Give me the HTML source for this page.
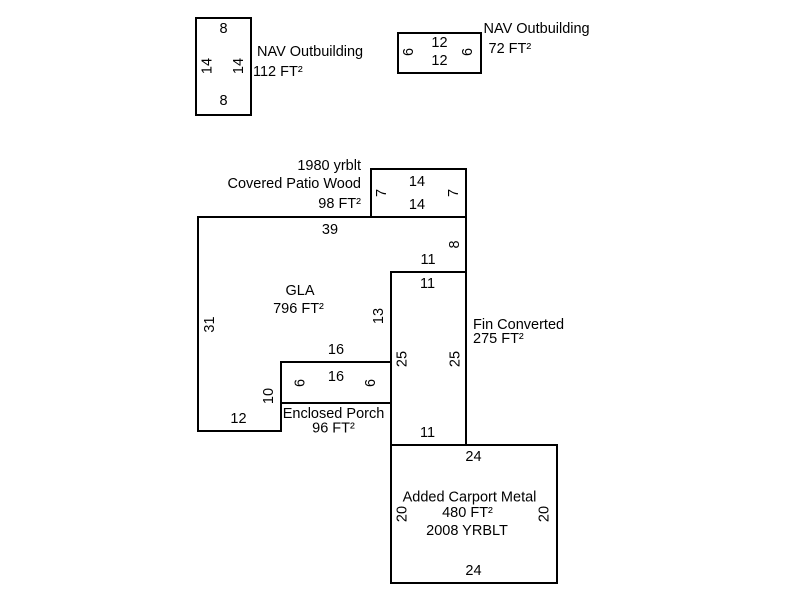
<!DOCTYPE html>
<html>
<head>
<meta charset="utf-8">
<style>
html,body{margin:0;padding:0;background:#fff;}
svg{display:block;}
text{font-family:"Liberation Sans",Arial,sans-serif;font-size:14.5px;fill:#000;}
.m{text-anchor:middle;}
.e{text-anchor:end;}
</style>
</head>
<body>
<svg width="800" height="600" viewBox="0 0 800 600" xmlns="http://www.w3.org/2000/svg">
<g fill="none" stroke="#000" stroke-width="2">
  <rect x="196" y="18" width="55" height="97"/>
  <rect x="398" y="33" width="83" height="40"/>
  <rect x="371" y="169" width="95" height="48"/>
  <polygon points="198,217 466,217 466,272 391,272 391,362 281,362 281,431 198,431"/>
  <rect x="391" y="272" width="75" height="173"/>
  <rect x="281" y="362" width="110" height="41"/>
  <rect x="391" y="445" width="166" height="138"/>
</g>

<!-- Outbuilding 1 -->
<text class="m" x="223.5" y="33">8</text>
<text class="m" x="223.5" y="105">8</text>
<text class="m" transform="translate(206.5,66) rotate(-90)" x="0" y="5">14</text>
<text class="m" transform="translate(238,66) rotate(-90)" x="0" y="5">14</text>
<text x="257" y="56">NAV Outbuilding</text>
<text x="253" y="76">112 FT²</text>

<!-- Outbuilding 2 -->
<text class="m" x="439.5" y="47">12</text>
<text class="m" x="439.5" y="65">12</text>
<text class="m" transform="translate(408,52) rotate(-90)" x="0" y="5">6</text>
<text class="m" transform="translate(467,52) rotate(-90)" x="0" y="5">6</text>
<text x="483.5" y="33">NAV Outbuilding</text>
<text x="488.5" y="53">72 FT²</text>

<!-- Patio -->
<text class="e" x="361" y="170">1980 yrblt</text>
<text class="e" x="361" y="188">Covered Patio Wood</text>
<text class="e" x="361" y="208">98 FT²</text>
<text class="m" x="417" y="186">14</text>
<text class="m" x="417" y="209">14</text>
<text class="m" transform="translate(381,193) rotate(-90)" x="0" y="5">7</text>
<text class="m" transform="translate(453,193) rotate(-90)" x="0" y="5">7</text>

<!-- GLA -->
<text class="m" x="330" y="234">39</text>
<text class="m" transform="translate(454,244.5) rotate(-90)" x="0" y="5">8</text>
<text class="m" x="428" y="264">11</text>
<text class="m" x="300" y="295">GLA</text>
<text class="m" x="298.5" y="313">796 FT²</text>
<text class="m" transform="translate(209,324.5) rotate(-90)" x="0" y="5">31</text>
<text class="m" transform="translate(378,316) rotate(-90)" x="0" y="5">13</text>
<text class="m" x="336" y="354">16</text>
<text class="m" transform="translate(268,396) rotate(-90)" x="0" y="5">10</text>
<text class="m" x="238.5" y="423">12</text>

<!-- Fin Converted -->
<text class="m" x="427.5" y="288">11</text>
<text class="m" transform="translate(401.5,359) rotate(-90)" x="0" y="5">25</text>
<text class="m" transform="translate(454.5,359) rotate(-90)" x="0" y="5">25</text>
<text x="473" y="329">Fin Converted</text>
<text x="473" y="343">275 FT²</text>
<text class="m" x="427.5" y="437">11</text>

<!-- Porch -->
<text class="m" x="336" y="381">16</text>
<text class="m" transform="translate(299.5,383) rotate(-90)" x="0" y="5">6</text>
<text class="m" transform="translate(370,383) rotate(-90)" x="0" y="5">6</text>
<text class="m" x="333.5" y="418">Enclosed Porch</text>
<text class="m" x="333.5" y="432.5">96 FT²</text>

<!-- Carport -->
<text class="m" x="473.5" y="461">24</text>
<text class="m" x="469.5" y="501.5">Added Carport Metal</text>
<text class="m" x="467.5" y="517">480 FT²</text>
<text class="m" x="467" y="535">2008 YRBLT</text>
<text class="m" transform="translate(401.5,514) rotate(-90)" x="0" y="5">20</text>
<text class="m" transform="translate(543.5,514) rotate(-90)" x="0" y="5">20</text>
<text class="m" x="473.5" y="575">24</text>
</svg>
</body>
</html>
